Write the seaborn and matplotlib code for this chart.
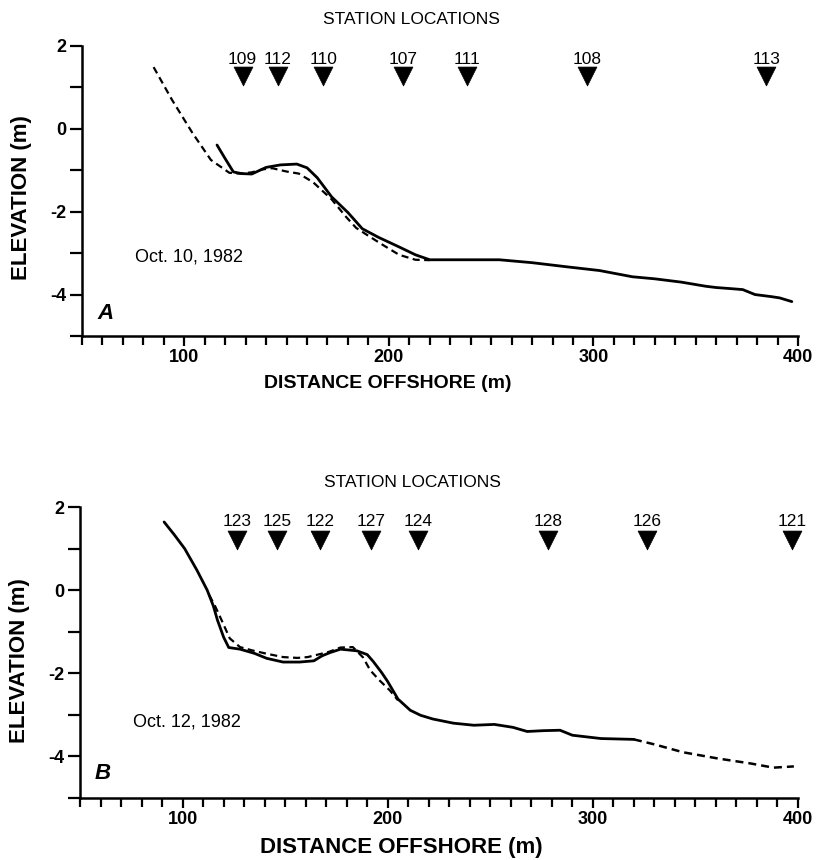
import matplotlib
matplotlib.use("Agg")
import matplotlib.pyplot as plt
import seaborn as sns
import numpy as np
import pandas as pd
from matplotlib.ticker import FixedLocator, MultipleLocator

# ---------------- data ----------------
# Panel A (Oct. 10, 1982)
a_dashed_x = [85, 94, 104, 113, 122, 127, 133, 138, 143, 150, 156, 163, 172, 179, 184, 189, 197, 205, 213, 220]
a_dashed_y = [1.49, 0.70, -0.10, -0.75, -1.06, -1.08, -1.05, -0.98, -0.95, -1.03, -1.08, -1.29, -1.70, -2.12,
              -2.39, -2.55, -2.80, -3.04, -3.16, -3.17]
a_solid_x = [116, 120, 124, 128, 133, 140, 147, 155, 160, 165, 172, 180, 187, 195, 205, 213, 220, 233, 254, 270,
             287, 303, 319, 330, 343, 355, 360, 368, 373, 379, 387, 391, 397]
a_solid_y = [-0.39, -0.72, -1.04, -1.08, -1.09, -0.93, -0.87, -0.85, -0.94, -1.18, -1.64, -2.02, -2.41, -2.62,
             -2.85, -3.04, -3.16, -3.16, -3.16, -3.23, -3.33, -3.42, -3.57, -3.62, -3.70, -3.80, -3.83, -3.86,
             -3.88, -4.00, -4.05, -4.08, -4.17]
a_station_names = ["109", "112", "110", "107", "111", "108", "113"]
a_station_x = [128.5, 145.6, 168, 207, 238, 297, 384.6]

# Panel B (Oct. 12, 1982)
b_solid_x = [91, 96, 101, 107, 112, 115, 117, 120, 122.5, 128, 135, 141, 149, 157, 164, 168, 172, 177, 185, 190,
             193, 197, 200, 205, 211, 216, 222, 232, 242, 252, 261, 268, 276, 284, 290, 297, 304, 312, 320]
b_solid_y = [1.64, 1.33, 1.00, 0.48, 0.00, -0.38, -0.72, -1.13, -1.38, -1.42, -1.52, -1.64, -1.73, -1.73,
             -1.70, -1.58, -1.50, -1.42, -1.46, -1.55, -1.72, -1.98, -2.20, -2.62, -2.89, -3.01, -3.10, -3.20,
             -3.25, -3.23, -3.30, -3.40, -3.38, -3.37, -3.49, -3.53, -3.57, -3.58, -3.59]
b_dashed1_x = [113, 116, 119, 123, 128, 134, 141, 149, 156, 161, 166, 171, 177, 183, 188, 191.5, 196, 201, 205]
b_dashed1_y = [-0.12, -0.40, -0.72, -1.16, -1.37, -1.45, -1.53, -1.61, -1.63, -1.61, -1.55, -1.49, -1.38,
               -1.37, -1.62, -1.93, -2.17, -2.41, -2.65]
b_dashed2_x = [320, 330, 344, 361, 377, 388, 398]
b_dashed2_y = [-3.59, -3.71, -3.90, -4.05, -4.17, -4.27, -4.24]
b_station_names = ["123", "125", "122", "127", "124", "128", "126", "121"]
b_station_x = [126.6, 146, 167, 192, 215, 278, 326.6, 397]

x_major = [100, 200, 300, 400]
y_major = [-4, -2, 0, 2]
y_minor = [-5, -3, -1, 1]

# ---------------- style ----------------
sns.set_style("ticks")
plt.rcParams["font.family"] = ["Liberation Sans", "DejaVu Sans"]
plt.rcParams["axes.unicode_minus"] = False
for k in ["text.color", "axes.labelcolor", "xtick.color", "ytick.color", "axes.edgecolor"]:
    plt.rcParams[k] = "black"

fig = plt.figure(figsize=(8.16, 8.6), dpi=100)
axA = fig.add_axes([82 / 816, 1 - 336 / 860, 716 / 816, 290 / 860])
axB = fig.add_axes([80 / 816, 1 - 798 / 860, 718 / 816, 291 / 860])

DASH = (0, (3.2, 2.0))


def style_axis(ax):
    ax.set_xlim(50, 400)
    ax.set_ylim(-5, 2)
    sns.despine(ax=ax)
    for s in ["left", "bottom"]:
        ax.spines[s].set_linewidth(1.8)
        ax.spines[s].set_color("black")
    ax.xaxis.set_major_locator(FixedLocator(x_major))
    ax.xaxis.set_minor_locator(MultipleLocator(10))
    ax.yaxis.set_major_locator(FixedLocator(y_major))
    ax.yaxis.set_minor_locator(FixedLocator(y_minor))
    ax.tick_params(which="both", direction="out", width=1.6, color="black", labelcolor="black")
    ax.tick_params(axis="x", which="major", length=7.5, labelsize=13, pad=2)
    ax.tick_params(axis="x", which="minor", length=6.5)
    ax.tick_params(axis="y", which="both", length=8.5, labelsize=13, pad=3)
    for lab in ax.get_xticklabels() + ax.get_yticklabels():
        lab.set_fontweight("bold")
    ax.set_facecolor("white")


def stations(ax, names, xs, y_tri, y_lab, title_x, title_y):
    sns.scatterplot(x=xs, y=[y_tri] * len(xs), marker="v", s=185, color="black",
                    edgecolor="black", linewidth=0.5, ax=ax, clip_on=False, zorder=5)
    for x, n in zip(xs, names):
        ax.text(x, y_lab, n, ha="center", va="center", fontsize=12.5, clip_on=False)
    ax.text(title_x, title_y, "STATION LOCATIONS", ha="center", va="center", fontsize=12.5,
            clip_on=False)


# ---------------- panel A ----------------
sns.lineplot(x=a_dashed_x, y=a_dashed_y, ax=axA, color="black", lw=1.6, ls=DASH, sort=False,
             estimator=None)
sns.lineplot(x=a_solid_x, y=a_solid_y, ax=axA, color="black", lw=2.0, sort=False, estimator=None)
style_axis(axA)
stations(axA, a_station_names, a_station_x, 1.28, 1.68, 211, 2.63)
axA.text(76, -3.1, "Oct. 10, 1982", ha="left", va="center", fontsize=13)
axA.text(57.5, -4.45, "A", ha="left", va="center", fontsize=16, fontweight="bold", fontstyle="italic")
axA.set_ylabel("ELEVATION (m)", fontsize=16, fontweight="bold")
axA.yaxis.set_label_coords(-0.07, 0.476)
axA.set_xlabel("DISTANCE OFFSHORE (m)", fontsize=14, fontweight="bold")
axA.xaxis.set_label_coords(0.427, -0.135)

# ---------------- panel B ----------------
sns.lineplot(x=b_dashed1_x, y=b_dashed1_y, ax=axB, color="black", lw=1.6, ls=DASH, sort=False,
             estimator=None)
sns.lineplot(x=b_dashed2_x, y=b_dashed2_y, ax=axB, color="black", lw=1.8, ls=DASH, sort=False,
             estimator=None)
sns.lineplot(x=b_solid_x, y=b_solid_y, ax=axB, color="black", lw=2.0, sort=False, estimator=None)
style_axis(axB)
stations(axB, b_station_names, b_station_x, 1.20, 1.64, 212, 2.58)
axB.text(76, -3.18, "Oct. 12, 1982", ha="left", va="center", fontsize=13)
axB.text(57, -4.4, "B", ha="left", va="center", fontsize=16, fontweight="bold", fontstyle="italic")
axB.set_ylabel("ELEVATION (m)", fontsize=16, fontweight="bold")
axB.yaxis.set_label_coords(-0.07, 0.474)
axB.set_xlabel("DISTANCE OFFSHORE (m)", fontsize=16, fontweight="bold")
axB.xaxis.set_label_coords(0.448, -0.135)

fig.savefig("out.png", dpi=100, facecolor="white")
